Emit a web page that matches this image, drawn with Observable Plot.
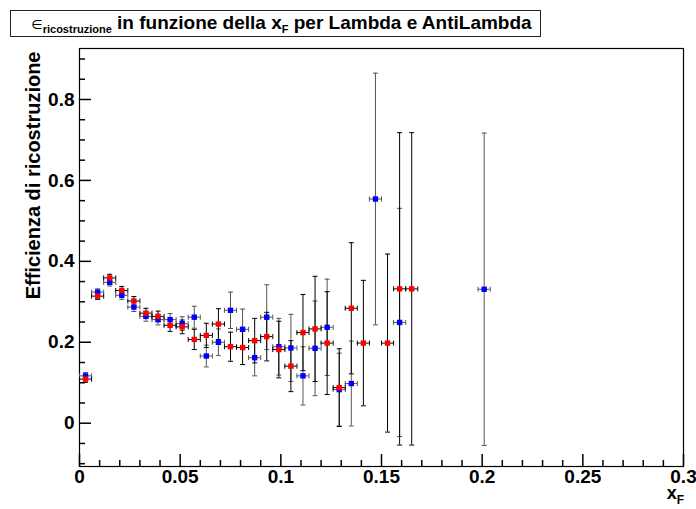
<!DOCTYPE html>
<html>
<head>
<meta charset="utf-8">
<script src="https://cdn.jsdelivr.net/npm/d3@7"></script>
<script src="https://cdn.jsdelivr.net/npm/@observablehq/plot@0.6"></script>
<style>
  html, body { margin: 0; padding: 0; background: #fff; }
  #wrap { position: relative; width: 696px; height: 509px; font-family: "Liberation Sans", Arial, Helvetica, sans-serif; }
  #title { position: absolute; left: 10px; top: 10px; width: 531px; height: 27px; border: 1px solid #222; box-sizing: border-box;
           font-weight: bold; font-size: 19px; line-height: 24px; text-align: center; white-space: nowrap; padding-left: 12px; }
  #title .eps { font-weight: normal; font-size: 13px; font-family: "DejaVu Sans", sans-serif; }
  #title sub { font-size: 11px; vertical-align: -4px; line-height: 0; }
  #xlab { position: absolute; right: 12px; top: 484px; font-weight: bold; font-size: 18px; line-height: 18px; white-space: nowrap; }
  #xlab sub { font-size: 12px; vertical-align: -5px; line-height: 0; }
  svg { position: absolute; left: 0; top: 0; }
</style>
</head>
<body>
<div id="wrap">
  <div id="chart"></div>
  <div id="title"><span class="eps">∈</span><sub>ricostruzione</sub> in funzione della x<sub>F</sub> per Lambda e AntiLambda</div>
  <div id="xlab">x<sub>F</sub></div>
</div>
<script>
// ---- data ----
const binHalfWidth = 0.003;

const blueX = [0.003,0.009,0.015,0.021,0.027,0.033,0.039,0.045,0.051,0.057,0.063,0.069,0.075,0.081,0.087,0.093,0.099,0.105,0.111,0.117,0.123,0.129,0.135,0.147,0.159,0.201];
const blueY = [0.117,0.324,0.348,0.316,0.287,0.264,0.256,0.256,0.246,0.262,0.166,0.200,0.279,0.232,0.162,0.262,0.189,0.186,0.117,0.185,0.237,0.083,0.098,0.554,0.249,0.331];
const blueErr = [0.008,0.008,0.009,0.010,0.011,0.012,0.013,0.015,0.017,0.027,0.027,0.033,0.045,0.050,0.045,0.080,0.070,0.083,0.072,0.117,0.119,0.090,0.105,0.311,0.282,0.386];

const redX = [0.003,0.009,0.015,0.021,0.027,0.033,0.039,0.045,0.051,0.057,0.063,0.069,0.075,0.081,0.087,0.093,0.099,0.105,0.111,0.117,0.123,0.129,0.135,0.141,0.153,0.159,0.165];
const redY = [0.109,0.314,0.359,0.328,0.302,0.272,0.264,0.242,0.238,0.207,0.217,0.245,0.189,0.187,0.204,0.214,0.182,0.141,0.224,0.233,0.198,0.088,0.284,0.198,0.198,0.332,0.332];
const redErr = [0.008,0.008,0.009,0.010,0.011,0.012,0.013,0.015,0.017,0.025,0.030,0.038,0.036,0.042,0.055,0.060,0.070,0.063,0.094,0.130,0.127,0.096,0.162,0.155,0.220,0.386,0.386];

const xMajorTicks = [0, 0.05, 0.1, 0.15, 0.2, 0.25, 0.3];
const xMinorTicks = [0.01,0.02,0.03,0.04,0.06,0.07,0.08,0.09,0.11,0.12,0.13,0.14,0.16,0.17,0.18,0.19,0.21,0.22,0.23,0.24,0.26,0.27,0.28,0.29];
const yMajorTicks = [0, 0.2, 0.4, 0.6, 0.8];
const yMinorTicks = [-0.1,-0.05,0.05,0.1,0.15,0.25,0.3,0.35,0.45,0.5,0.55,0.65,0.7,0.75,0.85,0.9];

const xDomain = [0, 0.3];
const yDomain = [-0.107, 0.926];

// ---- build tables ----
const blue = blueX.map((x, i) => ({x, y: blueY[i], e: blueErr[i]}));
const red = redX.map((x, i) => ({x, y: redY[i], e: redErr[i]}));

// pixel-sized custom symbols
const sq = {draw(ctx) { ctx.rect(-2.7, -2.7, 5.4, 5.4); }};
const capH = {draw(ctx) { ctx.moveTo(-2.5, 0); ctx.lineTo(2.5, 0); }};
const capV = {draw(ctx) { ctx.moveTo(0, -2.5); ctx.lineTo(0, 2.5); }};

function errMarks(data, barColor) {
  return [
    Plot.ruleX(data, {x: "x", y1: d => d.y - d.e, y2: d => d.y + d.e, stroke: barColor, strokeWidth: 1}),
    Plot.ruleY(data, {y: "y", x1: d => d.x - binHalfWidth, x2: d => d.x + binHalfWidth, stroke: barColor, strokeWidth: 1}),
    Plot.dot(data, {x: "x", y: d => d.y - d.e, symbol: capH, r: 3, fill: "none", stroke: barColor, strokeWidth: 1}),
    Plot.dot(data, {x: "x", y: d => d.y + d.e, symbol: capH, r: 3, fill: "none", stroke: barColor, strokeWidth: 1}),
    Plot.dot(data, {x: d => d.x - binHalfWidth, y: "y", symbol: capV, r: 3, fill: "none", stroke: barColor, strokeWidth: 1}),
    Plot.dot(data, {x: d => d.x + binHalfWidth, y: "y", symbol: capV, r: 3, fill: "none", stroke: barColor, strokeWidth: 1})
  ];
}

const fmt = d => String(d);
const blank = () => "";

const chart = Plot.plot({
  width: 696,
  height: 509,
  marginLeft: 79,
  marginRight: 13,
  marginTop: 48,
  marginBottom: 43,
  style: {fontFamily: "'Liberation Sans', Arial, Helvetica, sans-serif", overflow: "visible"},
  x: {domain: xDomain},
  y: {domain: yDomain},
  marks: [
    Plot.frame({stroke: "black", strokeWidth: 1.2}),
    // inward tick marks (no text)
    Plot.axisX({ticks: xMajorTicks, tickSize: -12, tickFormat: blank, label: null, stroke: "black", strokeWidth: 1.5}),
    Plot.axisX({ticks: xMinorTicks, tickSize: -6, tickFormat: blank, label: null, stroke: "black", strokeWidth: 1.5}),
    Plot.axisY({ticks: yMajorTicks, tickSize: -12, tickFormat: blank, label: null, stroke: "black", strokeWidth: 1.5}),
    Plot.axisY({ticks: yMinorTicks, tickSize: -6, tickFormat: blank, label: null, stroke: "black", strokeWidth: 1.5}),
    // tick labels
    Plot.axisX({ticks: xMajorTicks, tickFormat: fmt, tickSize: 0, tickPadding: 3, label: null, fontSize: 19, fontWeight: "bold", fill: "black"}),
    Plot.axisY({ticks: yMajorTicks, tickFormat: fmt, tickSize: 0, tickPadding: 5, label: null, fontSize: 19, fontWeight: "bold", fill: "black"}),
    Plot.text(["Efficienza di ricostruzione"], {frameAnchor: "top-left", rotate: -90, textAnchor: "end", lineAnchor: "middle", dx: -46, dy: 3, fontSize: 20, fontWeight: "bold", fill: "black"}),
    ...errMarks(blue, "#555"),
    ...errMarks(red, "black"),
    Plot.dot(blue, {x: "x", y: "y", symbol: sq, r: 3, fill: "#0000ff", stroke: "none"}),
    Plot.dot(red, {x: "x", y: "y", symbol: sq, r: 3, fill: "#ff0000", stroke: "none"})
  ]
});
document.getElementById("chart").appendChild(chart);
</script>
</body>
</html>
